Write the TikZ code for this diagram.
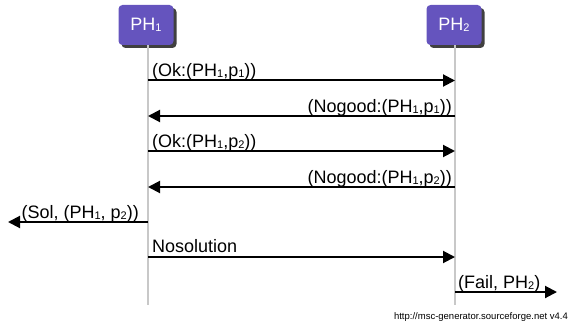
\documentclass[tikz,border=0pt]{standalone}
\usepackage{fontspec}
\setmainfont{Liberation Sans}
\usetikzlibrary{arrows.meta,shadows}
\definecolor{entityfill}{RGB}{101,84,190}
\definecolor{lifegray}{RGB}{200,200,200}
\newcommand{\lowidx}[1]{\raisebox{-1pt}{\fontsize{11}{11}\selectfont #1}}
\tikzset{
  entity/.style={draw=none, fill=entityfill, rounded corners=4pt, minimum width=55pt,
    minimum height=40pt, text=white, font=\fontsize{18}{20}\selectfont,
    drop shadow={shadow xshift=3pt, shadow yshift=-3pt, fill=black!75, opacity=1}},
  lifeline/.style={draw=lifegray, line width=1.5pt},
  msg/.style={draw=black, line width=2pt, -{Triangle[length=12pt,width=12pt]}},
  lbl/.style={inner sep=0pt, font=\fontsize{18}{20}\selectfont},
  footer/.style={inner sep=0pt, font=\fontsize{9.5}{10}\selectfont}
}
\begin{document}
\begin{tikzpicture}[x=1pt,y=-1pt]
\useasboundingbox (0,0) rectangle (577,326);
% entities
\node[entity] (ph1) at (146,25) {PH\lowidx{1}};
\node[entity] (ph2) at (454,25) {PH\lowidx{2}};
% lifeline ends
\coordinate (e1) at (148,305);
\coordinate (e2) at (455,305);
\draw[lifeline] (148,45) -- (e1);
\draw[lifeline] (455,45) -- (e2);
% message end points on the lifelines
\foreach \n/\y in {a/80.5,b/116,c/151,d/187,s/222,n/257,f/292}{
  \coordinate (l1\n) at (148,\y);
  \coordinate (l2\n) at (455,\y);
}
\coordinate (solend) at (8,222);
\coordinate (failend) at (557,292);
% messages
\draw[msg] (l1a) -- (l2a);
\draw[msg] (l2b) -- (l1b);
\draw[msg] (l1c) -- (l2c);
\draw[msg] (l2d) -- (l1d);
\draw[msg] (l1s) -- (solend);
\draw[msg] (l1n) -- (l2n);
\draw[msg] (l2f) -- (failend);
% labels
\node[lbl, anchor=base west] (ta) at (152,76.5) {(Ok:(PH\lowidx{1},p\lowidx{1}))};
\node[lbl, anchor=base east] (tb) at (452,112) {(Nogood:(PH\lowidx{1},p\lowidx{1}))};
\node[lbl, anchor=base west] (tc) at (152,147) {(Ok:(PH\lowidx{1},p\lowidx{2}))};
\node[lbl, anchor=base east] (td) at (452,183) {(Nogood:(PH\lowidx{1},p\lowidx{2}))};
\node[lbl, anchor=base east] (ts) at (139,218) {(Sol, (PH\lowidx{1}, p\lowidx{2}))};
\node[lbl, anchor=base west] (tn) at (152,252) {Nosolution};
\node[lbl, anchor=base west] (tf) at (458,288) {(Fail, PH\lowidx{2})};
\node[footer, anchor=base east] (ft) at (568,319) {http://msc-generator.sourceforge.net v4.4};
\end{tikzpicture}
\end{document}
